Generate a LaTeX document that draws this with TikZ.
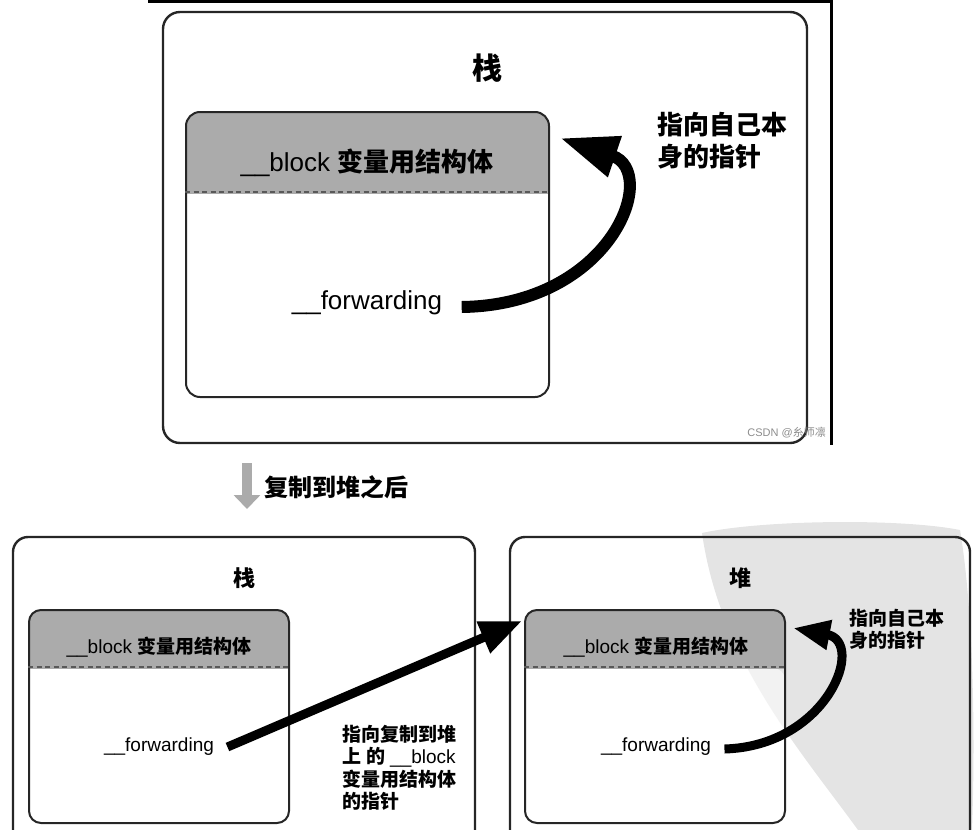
\documentclass[tikz,border=0pt]{standalone}
\usepackage{fontspec}
\setmainfont{Liberation Sans}
\newfontfamily\cjk{Noto Sans CJK SC}
\newcommand\hz{\cjk\bfseries}
\usetikzlibrary{arrows.meta,calc}
\definecolor{edge}{HTML}{262626}
\definecolor{hdr}{HTML}{ABABAB}
\definecolor{seal}{HTML}{E4E4E4}
\tikzset{
  outerbox/.style={draw=edge, line width=2.4pt, rounded corners=17pt, inner sep=0},
  innerbox/.style={draw=edge, line width=2pt, rounded corners=14pt, inner sep=0},
  sepline/.style={draw=black!65, line width=1.3pt, dash pattern=on 5pt off 3.5pt},
  bigfont/.style={font=\fontsize{26}{32}\selectfont},
  smallfont/.style={font=\fontsize{19}{22.5}\selectfont},
  ptr/.style={draw=black, line cap=butt},
}
\begin{document}
\begin{tikzpicture}[x=1pt,y=-1pt]
\useasboundingbox (0,0) rectangle (980,830);
\clip (0,0) rectangle (980,830);

% ---------- fills (drawn first) ----------
\fill[seal] (702,533) .. controls (760,520) and (900,518) .. (960,530)
    .. controls (972,600) and (976,720) .. (972,830) -- (858,830)
    .. controls (800,750) and (720,660) .. (702,533) -- cycle;
\fill[white, opacity=0.55, rounded corners=12pt] (525,668) rectangle (785,823);
\begin{scope}
  \clip (186,112) rectangle (549,193);
  \fill[hdr, rounded corners=14pt] (186,112) rectangle (549,397);
\end{scope}
\begin{scope}
  \clip (29,610) rectangle (289,668);
  \fill[hdr, rounded corners=12pt] (29,610) rectangle (289,823);
\end{scope}
\begin{scope}
  \clip (525,610) rectangle (785,668);
  \fill[hdr, rounded corners=12pt] (525,610) rectangle (785,823);
\end{scope}

% ---------- top picture ----------
\draw[line width=3pt, black] (148,1.5) -- (831.5,1.5) -- (831.5,445);
\node[outerbox, minimum width=644pt, minimum height=431pt] (ob1) at (485,227.5) {};
\node[font=\hz\fontsize{30}{30}\selectfont] (t1) at (487,68) {栈};
\node[innerbox, minimum width=363pt, minimum height=285pt] (ib1) at (367.5,254.5) {};
\draw[sepline] ([yshift=-81pt]ib1.north west) -- ([yshift=-81pt]ib1.north east);
\node[bigfont] (hb1) at (367,163) {\_\_block {\hz 变量用结构体}};
\node[bigfont] (fw1) at (367,303) {\_\_forwarding};
\coordinate (h1) at (560,138);
\draw[ptr, line width=12pt, -{Triangle[length=58pt,width=40pt]}]
  ([xshift=16pt,yshift=-4pt]fw1.east) .. controls (612,305) and (660,172) .. (h1);
\node[anchor=north west, align=left, inner sep=0, font=\hz\fontsize{26}{32}\selectfont] (lab1) at (657,112) {指向自己本\\身的指针};
\node[anchor=east, inner sep=0, text=black!45, font=\fontsize{11}{11}\selectfont] (wm) at (826,433) {CSDN @{\cjk 糸师凛}};

% ---------- middle ----------
\coordinate (ga) at (247,463);
\coordinate (gb) at (247,509);
\draw[draw=black!33, line width=10pt, -{Triangle[length=14pt,width=26pt]}] (ga) -- (gb);
\node[anchor=west, inner sep=0, font=\hz\fontsize{24}{24}\selectfont] (cp) at (264,487) {复制到堆之后};

% ---------- bottom left (stack) ----------
\node[outerbox, rounded corners=15pt, minimum width=462pt, minimum height=323pt] (ob2) at (244,698.5) {};
\node[font=\hz\fontsize{22}{22}\selectfont] (t2) at (244,578) {栈};
\node[innerbox, rounded corners=12pt, minimum width=260pt, minimum height=213pt] (ib2) at (159,716.5) {};
\draw[sepline] ([yshift=-58pt]ib2.north west) -- ([yshift=-58pt]ib2.north east);
\node[smallfont] (hb2) at (159,647) {\_\_block {\hz 变量用结构体}};
\node[smallfont] (fw2) at (159,747) {\_\_forwarding};

% ---------- bottom right (heap) ----------
\node[outerbox, rounded corners=15pt, minimum width=460pt, minimum height=323pt] (ob3) at (740,698.5) {};
\node[font=\hz\fontsize{22}{22}\selectfont] (t3) at (740,578) {堆};
\node[innerbox, rounded corners=12pt, minimum width=260pt, minimum height=213pt] (ib3) at (655,716.5) {};
\draw[sepline] ([yshift=-58pt]ib3.north west) -- ([yshift=-58pt]ib3.north east);
\node[smallfont] (hb3) at (656,647) {\_\_block {\hz 变量用结构体}};
\node[smallfont] (fw3) at (656,747) {\_\_forwarding};

% arrows
\coordinate (h2) at (522,621);
\draw[ptr, line width=9pt, -{Triangle[length=42pt,width=32pt]}] ([xshift=10pt]fw2.east) -- (h2);
\node[anchor=north west, align=left, inner sep=0, font=\hz\fontsize{19}{22.5}\selectfont] (lab2) at (342,725)
  {指向复制到堆\\上\hspace{5pt}的\hspace{5pt}{\mdseries\rmfamily\_\_block}\\变量用结构体\\的指针};
\coordinate (h3) at (793,628);
\draw[ptr, line width=9pt, -{Triangle[length=37pt,width=28pt]}]
  ([xshift=10pt,yshift=-2pt]fw3.east) .. controls (828,746) and (866,642) .. (h3);
\node[anchor=north west, align=left, inner sep=0, font=\hz\fontsize{19}{22}\selectfont] (lab3) at (849,609) {指向自己本\\身的指针};
\end{tikzpicture}
\end{document}
